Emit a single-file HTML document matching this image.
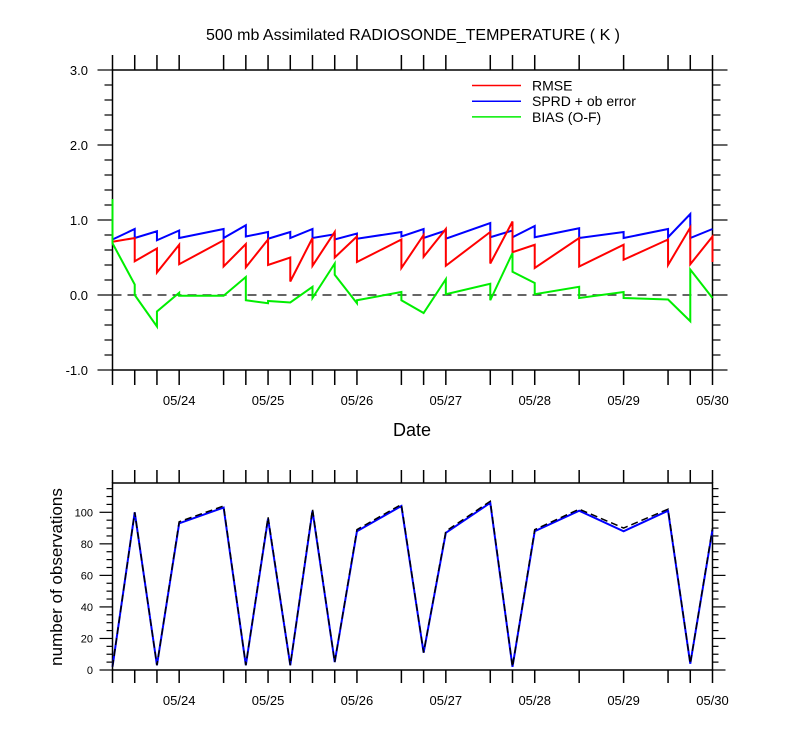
<!DOCTYPE html>
<html><head><meta charset="utf-8"><style>
body{margin:0;background:#fff}
svg text{font-family:"Liberation Sans",sans-serif}
</style></head><body>
<svg id="c" width="800" height="750" xmlns="http://www.w3.org/2000/svg"></svg>
<script>
// time indices (6h steps from 05/23 06Z)
const times=[0,1,2,3,5,6,7,8,9,10,11,13,14,15,17,18,19,21,23,25,26,27];
// [arriving value, leaving value]
const rmse=[[0.71,0.71],[0.76,0.45],[0.62,0.30],[0.67,0.41],[0.73,0.38],[0.68,0.37],[0.74,0.40],[0.50,0.18],[0.76,0.39],[0.84,0.50],[0.78,0.44],[0.74,0.36],[0.80,0.51],[0.88,0.39],[0.84,0.42],[0.98,0.57],[0.67,0.36],[0.76,0.38],[0.67,0.47],[0.74,0.40],[0.90,0.41],[0.78,0.44]];
const sprd=[[0.74,0.74],[0.88,0.76],[0.85,0.73],[0.86,0.76],[0.88,0.76],[0.93,0.78],[0.84,0.75],[0.84,0.76],[0.88,0.76],[0.81,0.74],[0.82,0.75],[0.84,0.78],[0.88,0.76],[0.86,0.75],[0.96,0.77],[0.86,0.77],[0.92,0.77],[0.89,0.76],[0.84,0.76],[0.88,0.77],[1.08,0.76],[0.88,0.88]];
const bias=[[1.28,0.69],[0.14,0.00],[-0.42,-0.22],[0.03,-0.01],[-0.01,-0.01],[0.24,-0.07],[-0.11,-0.08],[-0.10,-0.10],[0.11,-0.04],[0.42,0.27],[-0.11,-0.07],[0.04,-0.07],[-0.24,-0.24],[0.21,0.01],[0.15,-0.07],[0.56,0.31],[0.16,0.01],[0.11,-0.04],[0.04,-0.04],[-0.06,-0.06],[-0.35,0.34],[-0.04,-0.04]];
const obsUsed=[2,100,3,93,103,3,96,3,101,5,88,104,11,87,106,2,88,101,88,101,4,89];
const obsTotal=[2,100,3,94,104,3,97,3,102,5,89,105,11,88,107,2,89,102,90,102,4,90];
const dateLabels=["05/24","05/25","05/26","05/27","05/28","05/29","05/30"];
const dateIdx=[3,7,11,15,19,23,27];
const topTicks=["-1.0","0.0","1.0","2.0","3.0"];
const botTicks=[0,20,40,60,80,100];

const svg=document.getElementById('c');
const NS="http://www.w3.org/2000/svg";
function mk(t,a,p){const e=document.createElementNS(NS,t);for(const k in a)e.setAttribute(k,a[k]);(p||svg).appendChild(e);return e;}
const X0=112.5,X1=712.5;
const xs=i=>X0+(X1-X0)*i/27;
const yT=v=>295-75*v;
const yB=v=>670-1.577*v;

// top frame
let g=mk('g',{});


mk('rect',{x:X0,y:70,width:X1-X0,height:300,fill:'none',stroke:'#000','stroke-width':1.5},g);
for(const i of times){
  mk('line',{x1:xs(i),x2:xs(i),y1:55,y2:70,stroke:'#000','stroke-width':1.5},g);
  mk('line',{x1:xs(i),x2:xs(i),y1:370,y2:385,stroke:'#000','stroke-width':1.5},g);
}
for(let k=0;k<=20;k++){
  const v=-1+k*0.2,y=yT(v),maj=k%5==0;
  mk('line',{x1:X0-(maj?15:8),x2:X0,y1:y,y2:y,stroke:'#000','stroke-width':1.2},g);
  mk('line',{x1:X1,x2:X1+(maj?15:8),y1:y,y2:y,stroke:'#000','stroke-width':1.2},g);
}
topTicks.forEach((t,k)=>{const e=mk('text',{x:88,y:yT(-1+k)+5,'text-anchor':'end','font-size':13},g);e.textContent=t;
});
dateLabels.forEach((t,k)=>{const e=mk('text',{x:xs(dateIdx[k]),y:405,'text-anchor':'middle','font-size':13},g);e.textContent=t;
});
mk('line',{x1:X0,x2:X1,y1:yT(0),y2:yT(0),stroke:'#333','stroke-width':1.5,'stroke-dasharray':'9,6'},g);

function series(arr,color,name){
  let pts=[];
  times.forEach((t,k)=>{pts.push(xs(t)+','+yT(arr[k][0]));pts.push(xs(t)+','+yT(arr[k][1]));});
  const p=mk('polyline',{points:pts.join(' '),fill:'none',stroke:color,'stroke-width':2});
  
  
}
series(sprd,'#0000ff','sprd-line');
series(rmse,'#ff0000','rmse-line');
series(bias,'#00ee00','bias-line');

// legend
const leg=[['RMSE','#ff0000'],['SPRD + ob error','#0000ff'],['BIAS (O-F)','#00ee00']];
leg.forEach((l,k)=>{
  const y=85.5+k*15.7;
  const gg=mk('g',{});
  
  
  mk('line',{x1:472,x2:521,y1:y,y2:y,stroke:l[1],'stroke-width':1.5},gg);
  const e=mk('text',{x:532,y:y+5,'font-size':14},gg);e.textContent=l[0];
});

let t=mk('text',{x:413,y:40,'text-anchor':'middle','font-size':16});t.textContent='500 mb Assimilated RADIOSONDE_TEMPERATURE ( K )';

t=mk('text',{x:412,y:436,'text-anchor':'middle','font-size':18});t.textContent='Date';


// bottom plot
g=mk('g',{});


mk('rect',{x:X0,y:483,width:X1-X0,height:187,fill:'none',stroke:'#000','stroke-width':1.5},g);
for(const i of times){
  mk('line',{x1:xs(i),x2:xs(i),y1:470,y2:483,stroke:'#000','stroke-width':1.5},g);
  mk('line',{x1:xs(i),x2:xs(i),y1:670,y2:683,stroke:'#000','stroke-width':1.5},g);
}
for(let v=0;v<=115;v+=5){
  const y=yB(v),maj=v%20==0;
  mk('line',{x1:X0-(maj?13:6),x2:X0,y1:y,y2:y,stroke:'#000','stroke-width':1.2},g);
  mk('line',{x1:X1,x2:X1+(maj?13:6),y1:y,y2:y,stroke:'#000','stroke-width':1.2},g);
}
botTicks.forEach(v=>{const e=mk('text',{x:93,y:yB(v)+4,'text-anchor':'end','font-size':11},g);e.textContent=v;
});
dateLabels.forEach((s,k)=>{const e=mk('text',{x:xs(dateIdx[k]),y:705,'text-anchor':'middle','font-size':13},g);e.textContent=s;
});
let p=mk('polyline',{points:times.map((ti,k)=>xs(ti)+','+yB(obsUsed[k])).join(' '),fill:'none',stroke:'#0000ff','stroke-width':2});

p=mk('polyline',{points:times.map((ti,k)=>xs(ti)+','+yB(obsTotal[k])).join(' '),fill:'none',stroke:'#000','stroke-width':1.5,'stroke-dasharray':'7,4'});

t=mk('text',{x:0,y:0,'text-anchor':'middle','font-size':17,transform:'translate(62,577) rotate(-90)'});t.textContent='number of observations';

</script>
</body></html>
